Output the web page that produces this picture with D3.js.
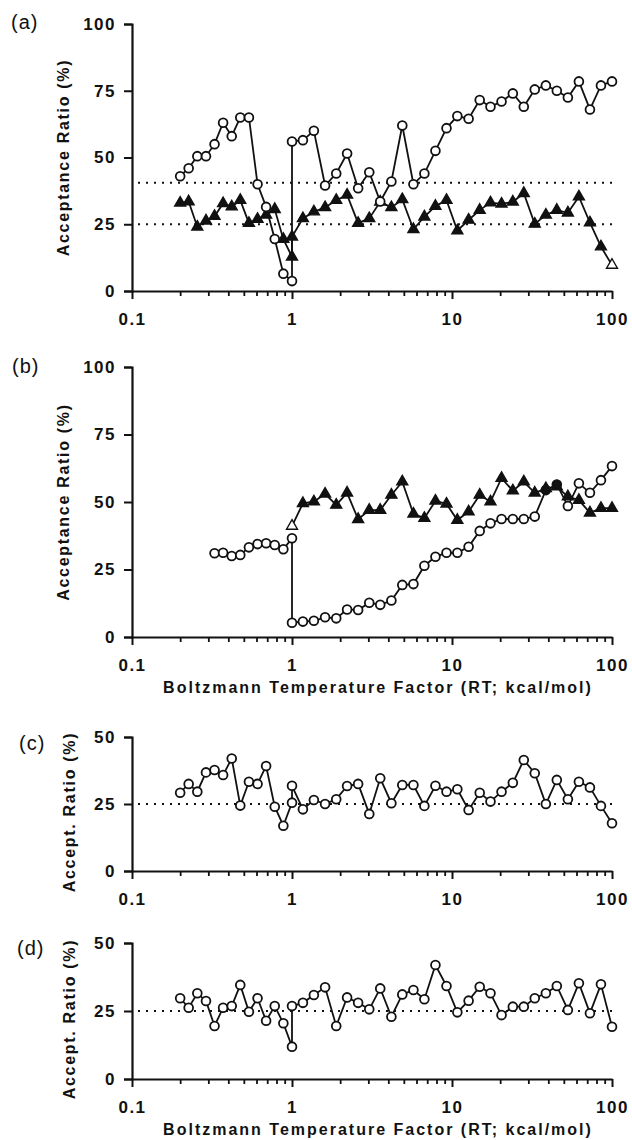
<!DOCTYPE html>
<html>
<head>
<meta charset="utf-8">
<script src="https://cdn.jsdelivr.net/npm/d3@7/dist/d3.min.js"></script>
<style>
  body { margin: 0; background: #fff; }
  text { font-family: "Liberation Sans", Arial, sans-serif; fill: #111; }
</style>
</head>
<body>
<svg width="632" height="1140"></svg>
<script>
// temperature grid (RT, kcal/mol)
var tempLow = [0.2, 0.226, 0.256, 0.29, 0.328, 0.371, 0.42, 0.475, 0.538, 0.609, 0.689, 0.78, 0.883, 1];
var tempHigh = [1, 1.17, 1.37, 1.61, 1.89, 2.21, 2.59, 3.04, 3.56, 4.18, 4.89, 5.74, 6.72, 7.88, 9.24,
                10.8, 12.7, 14.9, 17.4, 20.4, 24, 28.1, 32.9, 38.6, 45.2, 53, 62.1, 72.8, 85.3, 100];

// (a)
var aCircLow = [43, 46, 50.5, 50.5, 55, 63, 58, 65, 65, 40, 31.5, 19.5, 6.5, 3.7];
var aCircHigh = [56, 56.5, 60, 39.5, 44, 51.5, 38.5, 44.5, 33.5, 41, 62, 40, 44, 52.5, 61,
                 65.5, 64.5, 71.5, 69, 71, 74, 69, 75.5, 77, 75, 72.5, 78.5, 68, 77, 78.5];
var aTriLow = [33, 33.5, 24, 26.3, 28, 32.8, 31.6, 34, 25.4, 26.9, 28.5, 30.6, 19.4, 12.8];
var aTriHigh = [20.3, 27.2, 29.7, 31.3, 34, 36, 25.4, 27.2, 33.4, 31.3, 34.3, 23.1, 27.8, 31.8, 34,
                22.6, 26.6, 30.3, 33.1, 32.6, 33.4, 36.6, 25.1, 28.5, 30.3, 29.3, 35.3, 25.6, 16.6, 9.7];
var aRefLines = [40.5, 25];

// (b)
var bCircLow = [31, 31.2, 30, 30.4, 33.2, 34.4, 34.7, 34.1, 32.5, 36.6];
var bCircHigh = [5.3, 5.7, 6, 7.3, 6.9, 10.2, 10, 12.7, 11.9, 13.5, 19.3, 19.6, 26.4, 29.7, 31.2,
                 31.2, 33.4, 39.3, 42.1, 43.7, 43.7, 43.7, 44.6, 54.4, 56.5, 48.5, 56.9, 53.4, 58.1, 63.3];
var bTriHigh = [41.1, 49.5, 50.1, 53, 48.9, 53.4, 43.6, 47, 47, 52.6, 57.5, 45.6, 44, 50.4, 49.3,
                43.3, 46.4, 52.6, 50.1, 58.8, 54.2, 57.5, 53.4, 55, 55.7, 52, 50.7, 46, 47.7, 47.7];

// (c)
var cLow = [29.2, 32.5, 29.6, 36.8, 37.7, 35.8, 42, 24.4, 33.3, 32.5, 39.2, 24, 16.9, 25.5];
var cHigh = [31.8, 23, 26.5, 25, 26.8, 31.7, 32.5, 21.3, 34.6, 25.3, 32.1, 32.1, 24.3, 31.8, 29.6,
             30.5, 22.8, 29.2, 25.9, 29.6, 32.9, 41.4, 36.5, 25, 34, 26.8, 33.3, 31.2, 24.3, 17.8];

// (d)
var dLow = [29.7, 26.2, 31.5, 28.7, 19.5, 26.2, 26.8, 34.6, 24.7, 29.7, 21.4, 26.8, 20.5, 11.9];
var dHigh = [26.8, 28, 30.9, 33.7, 19.5, 30, 28, 25.6, 33.3, 22.9, 31.1, 32.7, 29.3, 41.9, 34.2,
             24.5, 28.8, 33.9, 31.5, 23.5, 26.6, 26.6, 29.7, 31.5, 34.2, 25.4, 35.2, 24.2, 34.8, 19.2];

var yTicksFull = [0, 25, 50, 75, 100];
var yTicksHalf = [0, 25, 50];
var xMajor = [0.1, 1, 10, 100];
var xMinor = [0.2, 0.3, 0.4, 0.5, 0.6, 0.7, 0.8, 0.9, 2, 3, 4, 5, 6, 7, 8, 9, 20, 30, 40, 50, 60, 70, 80, 90];

var yTitleFull = "Acceptance Ratio (%)";
var yTitleShort = "Accept. Ratio (%)";
var xTitle = "Boltzmann Temperature Factor (RT; kcal/mol)";

function pts(xs, ys) {
    return ys.map(function (v, i) { return [xs[i], v]; });
}

var svg = d3.select("svg");
var x = d3.scaleLog().domain([0.1, 100]).range([132, 612]);

// open = index of hollow markers, filled = index of solid circles
var panels = [
    { label: "(a)", lx: 11, ly: 29, top: 24, bottom: 291, ymax: 100, ticks: yTicksFull,
      ytitle: yTitleFull, tx: 69, refs: aRefLines, xtitle: false,
      series: [
        { data: pts(tempLow.concat(tempHigh), aTriLow.concat(aTriHigh)), mark: "tri", open: [43] },
        { data: pts(tempLow.concat(tempHigh), aCircLow.concat(aCircHigh)), mark: "circ" }
      ] },
    { label: "(b)", lx: 12, ly: 373, top: 367, bottom: 637, ymax: 100, ticks: yTicksFull,
      ytitle: yTitleFull, tx: 69, refs: [], xtitle: true,
      series: [
        { data: pts(tempHigh, bTriHigh), mark: "tri", open: [0] },
        { data: pts(tempLow.slice(4).concat(tempHigh), bCircLow.concat(bCircHigh)), mark: "circ", filled: [33, 34] }
      ] },
    { label: "(c)", lx: 19, ly: 750, top: 737, bottom: 871, ymax: 50, ticks: yTicksHalf,
      ytitle: yTitleShort, tx: 75, refs: [25], xtitle: false,
      series: [
        { data: pts(tempLow.concat(tempHigh), cLow.concat(cHigh)), mark: "circ" }
      ] },
    { label: "(d)", lx: 17, ly: 955, top: 943, bottom: 1079, ymax: 50, ticks: yTicksHalf,
      ytitle: yTitleShort, tx: 75, refs: [25], xtitle: true,
      series: [
        { data: pts(tempLow.concat(tempHigh), dLow.concat(dHigh)), mark: "circ" }
      ] }
];

panels.forEach(function (p) {
    var y = d3.scaleLinear().domain([0, p.ymax]).range([p.bottom, p.top]);
    var g = svg.append("g");

    // dotted reference lines
    g.selectAll(".ref")
        .data(p.refs)
        .enter()
        .append("line")
        .attr("x1", 138).attr("x2", x(100))
        .attr("y1", function (d) { return y(d); })
        .attr("y2", function (d) { return y(d); })
        .attr("stroke", "#111")
        .attr("stroke-width", 2)
        .attr("stroke-dasharray", "2,6");

    // y axis
    var ya = g.append("g")
        .attr("transform", "translate(" + x(0.1) + ",0)")
        .call(d3.axisLeft(y).tickValues(p.ticks).tickSizeOuter(0).tickSize(8).tickPadding(8));
    ya.select(".domain").attr("stroke-width", 2.2).attr("stroke", "#111");
    ya.selectAll(".tick line").attr("stroke-width", 2).attr("stroke", "#111");
    ya.selectAll("text").attr("font-size", "17px").attr("font-weight", "bold")
        .attr("letter-spacing", "1.5px").attr("font-family", null);

    // x axis minor + major
    var xm = g.append("g")
        .attr("transform", "translate(0," + p.bottom + ")")
        .call(d3.axisBottom(x).tickValues(xMinor).tickSize(5).tickSizeOuter(0).tickFormat(""));
    xm.select(".domain").remove();
    xm.selectAll(".tick line").attr("stroke-width", 1.8).attr("stroke", "#111");

    var xa = g.append("g")
        .attr("transform", "translate(0," + p.bottom + ")")
        .call(d3.axisBottom(x).tickValues(xMajor).tickSize(8).tickSizeOuter(0)
            .tickFormat(function (d) { return d === 0.1 ? "0.1" : d3.format("d")(d); }));
    xa.select(".domain").attr("stroke-width", 2.2).attr("stroke", "#111");
    xa.selectAll(".tick line").attr("stroke-width", 2).attr("stroke", "#111");
    xa.selectAll("text").attr("font-size", "17px").attr("font-weight", "bold")
        .attr("letter-spacing", "1.5px").attr("font-family", null)
        .attr("y", 34).attr("dy", 0);

    // titles
    g.append("text")
        .attr("transform", "translate(" + p.tx + "," + ((p.top + p.bottom) / 2 + (p.ymax === 50 ? 8 : 0)) + ") rotate(-90)")
        .attr("text-anchor", "middle")
        .attr("font-size", "16px")
        .attr("font-weight", "bold")
        .attr("letter-spacing", "1.7px")
        .text(p.ytitle);

    if (p.xtitle) {
        g.append("text")
            .attr("x", 378)
            .attr("y", p.bottom + 56)
            .attr("text-anchor", "middle")
            .attr("font-size", "16px")
            .attr("font-weight", "bold")
            .attr("letter-spacing", "2px")
            .text(xTitle);
    }

    g.append("text")
        .attr("x", p.lx)
        .attr("y", p.ly)
        .attr("font-size", "20px")
        .attr("letter-spacing", "1px")
        .text(p.label);

    // series
    var line = d3.line()
        .x(function (d) { return x(d[0]); })
        .y(function (d) { return y(d[1]); });

    p.series.forEach(function (s) {
        var open = s.open || [], filled = s.filled || [];
        g.append("path")
            .datum(s.data)
            .attr("d", line)
            .attr("fill", "none")
            .attr("stroke", "#111")
            .attr("stroke-width", 1.8);

        if (s.mark === "circ") {
            g.append("g")
                .selectAll("circle")
                .data(s.data)
                .enter()
                .append("circle")
                .attr("cx", function (d) { return x(d[0]); })
                .attr("cy", function (d) { return y(d[1]); })
                .attr("r", 4.4)
                .attr("fill", function (d, i) { return filled.indexOf(i) >= 0 ? "#111" : "#fff"; })
                .attr("stroke", "#111")
                .attr("stroke-width", 1.8);
        } else {
            g.append("g")
                .selectAll("path")
                .data(s.data)
                .enter()
                .append("path")
                .attr("transform", function (d) { return "translate(" + x(d[0]) + "," + y(d[1]) + ")"; })
                .attr("d", d3.symbol(d3.symbolTriangle).size(52))
                .attr("fill", function (d, i) { return open.indexOf(i) >= 0 ? "#fff" : "#111"; })
                .attr("stroke", "#111")
                .attr("stroke-width", 1.4);
        }
    });
});
</script>
</body>
</html>
